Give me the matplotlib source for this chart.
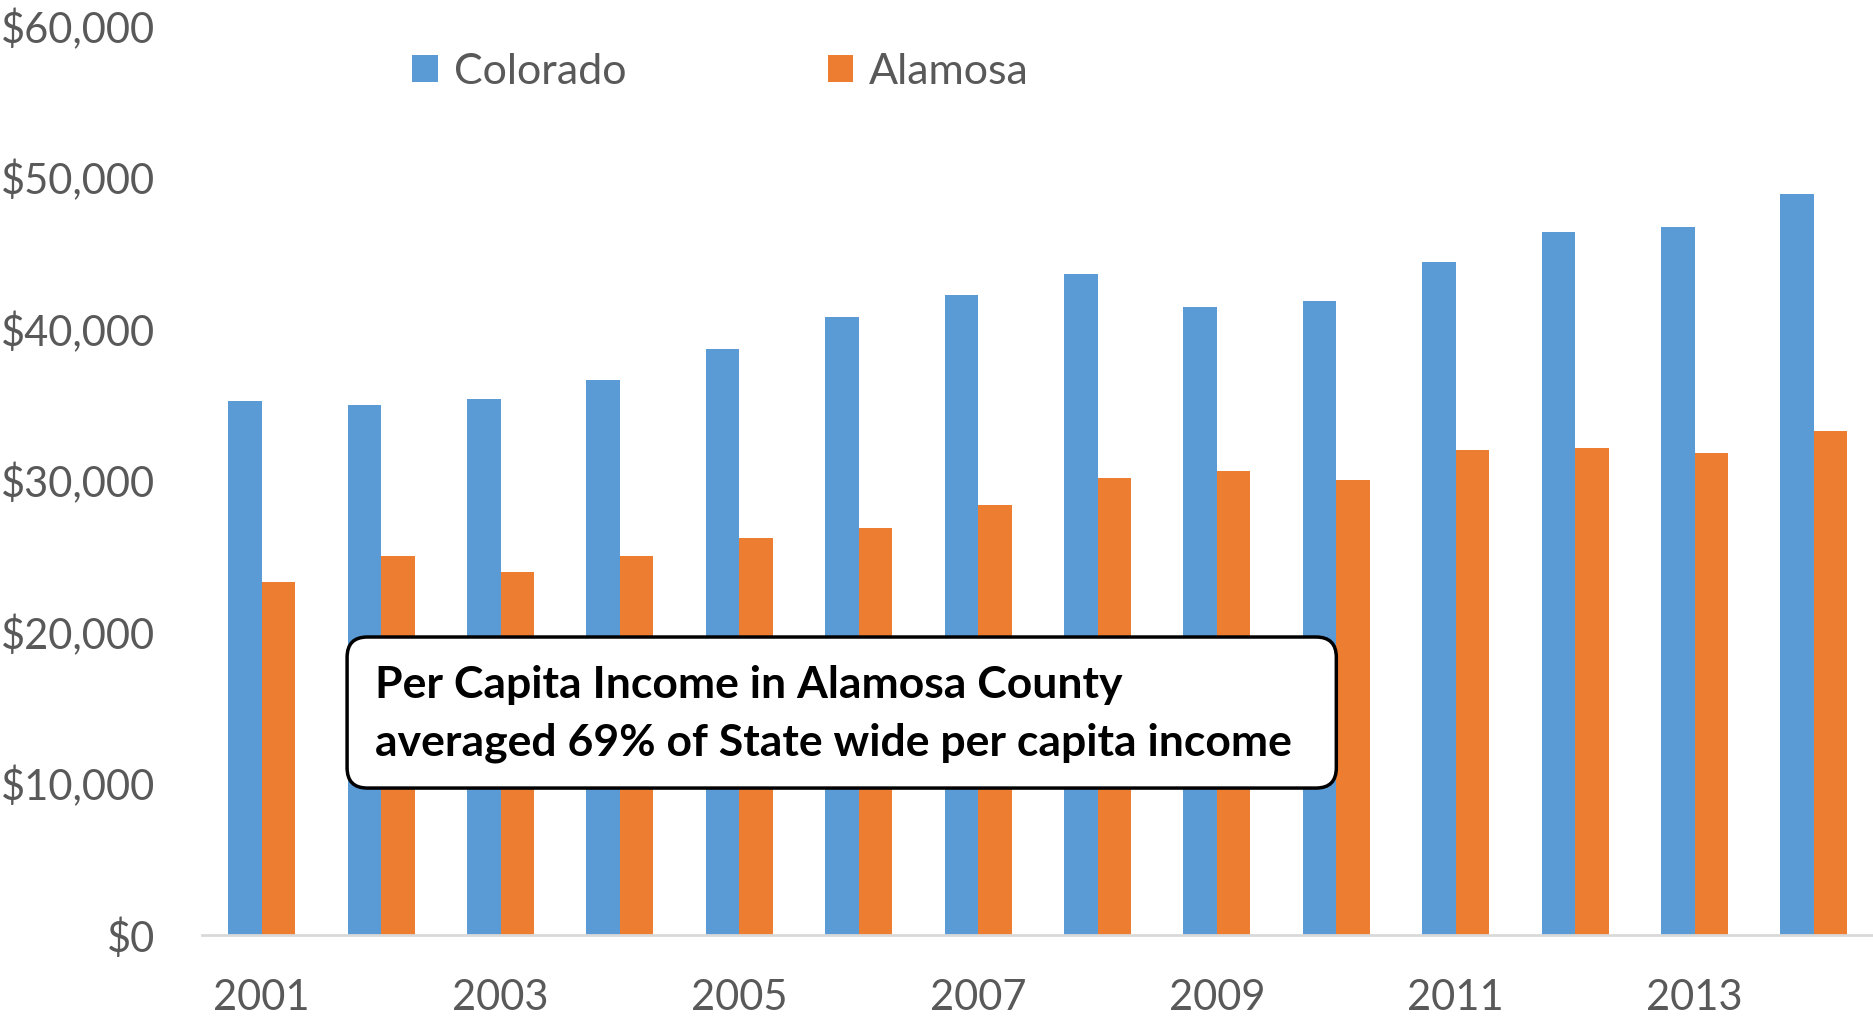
import matplotlib.pyplot as plt
import numpy as np
from matplotlib.ticker import FuncFormatter
from matplotlib.patches import FancyBboxPatch

plt.rcParams['font.family'] = ['Lato', 'DejaVu Sans']

years = list(range(2001, 2015))
colorado = [35230, 34990, 35390, 36650, 38700, 40760, 42260,
            43600, 41470, 41860, 44390, 46370, 46760, 48890]
alamosa = [23300, 25040, 23930, 25040, 26220, 26860, 28360,
           30170, 30650, 30020, 31990, 32150, 31830, 33250]
note = "Per Capita Income in Alamosa County\naveraged 69% of State wide per capita income"

blue = '#5B9BD5'
orange = '#ED7D31'
grey = '#595959'

fig = plt.figure(figsize=(18.74, 10.23), dpi=100)
ax = fig.add_axes([0.1078, 0.086, 0.892, 0.8886])

x = np.arange(len(years))
w = 0.28
ax.bar(x - w/2, colorado, w, color=blue, label='Colorado')
ax.bar(x + w/2, alamosa, w, color=orange, label='Alamosa')

ax.set_xlim(-0.5, len(years) - 0.5)
ax.set_ylim(0, 60000)
ax.set_yticks(range(0, 60001, 10000))
ax.yaxis.set_major_formatter(FuncFormatter(lambda v, p: '${:,.0f}'.format(v)))
ax.set_xticks(x[::2])
ax.set_xticklabels([str(y) for y in years[::2]])

for s in ['top', 'right', 'left']:
    ax.spines[s].set_visible(False)
ax.spines['bottom'].set_color('#D9D9D9')
ax.spines['bottom'].set_linewidth(2)
ax.tick_params(axis='both', length=0, labelsize=30, labelcolor=grey)
ax.tick_params(axis='x', pad=32)
ax.tick_params(axis='y', pad=34)

fig.legend(loc='center left', bbox_to_anchor=(0.22, 0.93), ncol=2, frameon=False,
           fontsize=31, labelcolor=grey, handlelength=0.6, handleheight=0.6,
           handletextpad=0.36, columnspacing=4.68, borderpad=0, borderaxespad=0)

# rounded call-out box; aspect keeps the corners circular
bb = ax.get_window_extent()
xr = ax.get_xlim()[1] - ax.get_xlim()[0]
yr = ax.get_ylim()[1] - ax.get_ylim()[0]
aspect = (yr / bb.height) / (xr / bb.width)
box = FancyBboxPatch((0.715, 9700), 9.0 - 0.715, 19670 - 9700,
                     boxstyle='round,pad=0,rounding_size=0.17', mutation_aspect=aspect,
                     facecolor='white', edgecolor='black', linewidth=2.5, zorder=3)
ax.add_patch(box)
ax.text(0.95, 14590, note, fontsize=32, fontweight='bold', color='black',
        ha='left', va='center', linespacing=1.54, zorder=4)

fig.savefig('out.png', dpi=100)
